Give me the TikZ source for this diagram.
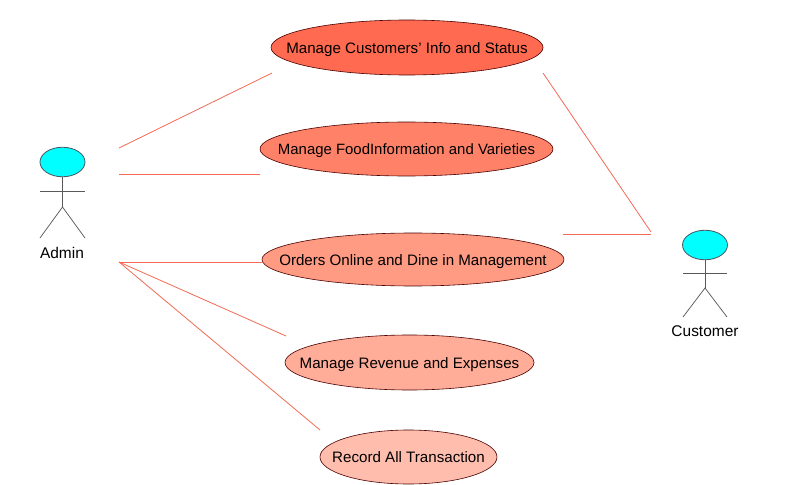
\documentclass[tikz,border=0pt]{standalone}
\usepackage{fontspec}
\setmainfont{Liberation Sans}
\usetikzlibrary{shapes.geometric}
\definecolor{ln}{HTML}{F26B55}
\definecolor{hd}{HTML}{00FFFF}
\newcommand{\uctext}[1]{\makebox[0pt]{\raisebox{-4.2pt}[0pt][0pt]{#1}}}
\tikzset{
  px/.style={x=0.75pt,y=-0.75pt},
  usecase/.style={ellipse,draw=black!70!red,line width=0.45pt,inner sep=0pt,minimum width=#1*0.75pt,font=\fontsize{11.35}{12}\selectfont,text=black},
  assoc/.style={draw=ln,line width=0.6pt},
  stick/.style={draw=black!65,line width=0.55pt},
  headshape/.style={ellipse,draw=black!70!cyan,fill=hd,line width=0.6pt,inner sep=0pt,minimum width=45*0.75pt,minimum height=29.5*0.75pt},
  actorlabel/.style={font=\fontsize{11.6}{12}\selectfont,text=black,inner sep=0pt}
}
\begin{document}
\begin{tikzpicture}[px]
\useasboundingbox[fill=white] (0,0) rectangle (797,485);
% use cases
\node[usecase=272,minimum height=55*0.75pt,fill={rgb,255:red,255;green,106;blue,80}] (u1) at (407,47.5) {\uctext{Manage Customers' Info and Status}};
\node[usecase=293,minimum height=54*0.75pt,font=\fontsize{11.2}{12}\selectfont,fill={rgb,255:red,255;green,130;blue,104}] (u2) at (406.5,149) {\uctext{Manage FoodInformation and Varieties}};
\node[usecase=302,minimum height=53*0.75pt,fill={rgb,255:red,255;green,155;blue,130}] (u3) at (413,259.5) {\uctext{Orders Online and Dine in Management}};
\node[usecase=249,minimum height=55*0.75pt,fill={rgb,255:red,255;green,172;blue,152}] (u4) at (409.5,362.5) {\uctext{Manage Revenue and Expenses}};
\node[usecase=177,minimum height=54*0.75pt,fill={rgb,255:red,255;green,189;blue,173}] (u5) at (408.5,457) {\uctext{Record All Transaction}};
% Admin
\node[headshape] (ah) at (62.5,162) {};
\coordinate (ah0) at (62.5,207);
\coordinate (al) at (40,238);
\coordinate (ar) at (85,238);
\coordinate (aal) at (40,191);
\coordinate (aar) at (85,191);
\draw[stick] (ah.south) -- (ah0);
\draw[stick] (aal) -- (aar);
\draw[stick] (al) -- (ah0) -- (ar);
\node[actorlabel] (at) at (62,252.5) {Admin};
% Customer
\node[headshape] (ch) at (705,245) {};
\coordinate (ch0) at (705,288);
\coordinate (cl) at (683,317);
\coordinate (cr) at (727,317);
\coordinate (cal) at (683,273);
\coordinate (car) at (727,273);
\draw[stick] (ch.south) -- (ch0);
\draw[stick] (cal) -- (car);
\draw[stick] (cl) -- (ch0) -- (cr);
\node[actorlabel] (ct) at (705,331.5) {Customer};
% associations
\coordinate (a1) at (119,148);
\coordinate (a2) at (119,174);
\coordinate (a3) at (119,262);
\coordinate (u1a) at (272,73);
\coordinate (u2a) at (260,174);
\coordinate (u3a) at (262,262);
\coordinate (u4a) at (286,336);
\coordinate (u5a) at (320,430);
\coordinate (c1) at (651,232);
\coordinate (c2) at (651,234.5);
\coordinate (u1c) at (543,73);
\coordinate (u3c) at (563,234.5);
\draw[assoc] (a1) -- (u1a);
\draw[assoc] (a2) -- (u2a);
\draw[assoc] (a3) -- (u3a);
\draw[assoc] (a3) -- (u4a);
\draw[assoc] (a3) -- (u5a);
\draw[assoc] (c1) -- (u1c);
\draw[assoc] (c2) -- (u3c);
\end{tikzpicture}
\end{document}
